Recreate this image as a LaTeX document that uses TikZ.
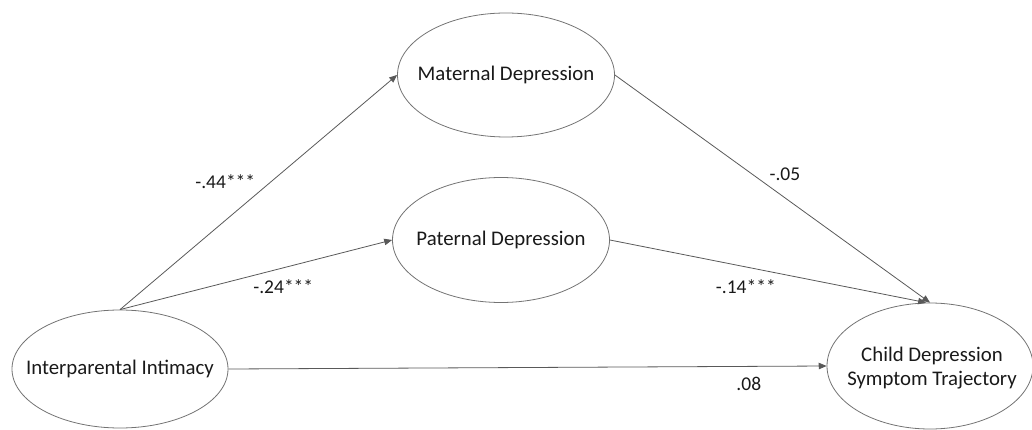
\documentclass[tikz,border=0pt]{standalone}
\usepackage{fontspec}
\setmainfont{Carlito}
\usepackage{tikz}
\usetikzlibrary{arrows,shapes.geometric}

\begin{document}
\begin{tikzpicture}
        [x=1pt, y=-1pt,
        nstyle/.style={ellipse, draw=black!55, line width=0.8pt, inner sep=0pt},
        tstyle/.style={font=\fontsize{20.8}{24}\selectfont, text=black!90, align=center},
        lstyle/.style={font=\fontsize{19.5}{22}\selectfont, text=black!90, inner sep=1pt},
        dstyle/.style={->, >=triangle 45, line width=0.8pt, draw=black!65}]

        \useasboundingbox (0,0) rectangle (1032,430);

        \node[nstyle, minimum width=217, minimum height=124] (maternal) at (506,75) {};
        \node[nstyle, minimum width=217, minimum height=125] (paternal) at (501,240) {};
        \node[nstyle, minimum width=216, minimum height=118] (intimacy) at (120,369) {};
        \node[nstyle, minimum width=206, minimum height=126] (child)    at (930,366) {};

        \node[tstyle] (maternalt) at (maternal) {Maternal Depression};
        \node[tstyle] (paternalt) at (paternal) {Paternal Depression};
        \node[tstyle] (intimacyt) at (intimacy) {Interparental Intimacy};
        \node[tstyle] (childt)    at ([xshift=2pt, yshift=-2]child) {Child Depression\\Symptom Trajectory};

        \draw[dstyle] (intimacy.north) -- node[lstyle, pos=0.5, above left=2pt] {-.44***} (maternal.west);
        \draw[dstyle] (intimacy.north) -- node[lstyle, pos=0.6, below=10pt] {-.24***} (paternal.west);
        \draw[dstyle] (maternal.east) -- node[lstyle, pos=0.48, above right=2pt] {-.05} (child.north);
        \draw[dstyle] (paternal.east) -- node[lstyle, pos=0.43, below=11pt] {-.14***} ([xshift=-4pt]child.north);
        \draw[dstyle] (intimacy.east) -- node[lstyle, pos=0.87, below=9pt] {.08} (child.west);
    \end{tikzpicture}
\end{document}
